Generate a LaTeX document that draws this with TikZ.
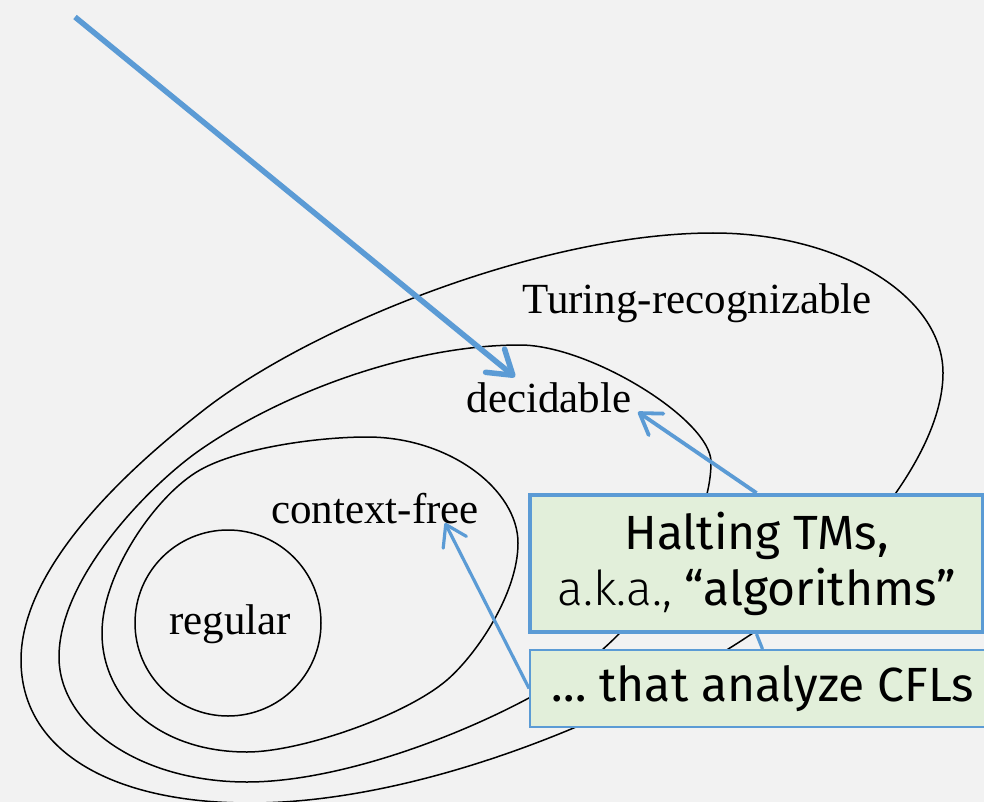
\documentclass[tikz,border=0pt]{standalone}
\usepackage{fontspec}
\setmainfont{Liberation Serif}
\newfontfamily\fira{Fira Sans}
\newfontfamily\firalight{Fira Sans Light}
\usetikzlibrary{arrows.meta}
\definecolor{bgc}{HTML}{F2F2F2}
\definecolor{arrowblue}{HTML}{5B9BD5}
\definecolor{boxgreen}{HTML}{E2EFDA}
\pgfdeclarelayer{back}
\pgfdeclarelayer{mid}
\pgfsetlayers{back,mid,main}
\tikzset{
  region/.style={draw=black, line width=1.5pt},
  lbl/.style={font=\fontsize{43}{50}\selectfont, inner sep=0pt, anchor=base},
  bigarrow/.style={draw=arrowblue, line width=5.5pt, -{Straight Barb[length=23pt,width=30pt,round]}},
  midarrow/.style={draw=arrowblue, line width=3.8pt, -{Straight Barb[length=20pt,width=26pt,round]}},
  smallarrow/.style={draw=arrowblue, line width=3.2pt, -{Straight Barb[length=20pt,width=26pt,round]}},
  plainline/.style={draw=arrowblue, line width=3.2pt},
  notebox/.style={fill=boxgreen, draw=arrowblue, inner sep=0pt, align=center,
    font=\fira\fontsize{48}{56}\selectfont}
}
\begin{document}
\begin{tikzpicture}[x=1pt,y=-1pt]
\begin{pgfonlayer}{back}
\fill[bgc] (0,0) rectangle (984,802);
\end{pgfonlayer}
\useasboundingbox (0,0) rectangle (984,802);

% labels
\node[lbl] (tr) at (697,313) {Turing-recognizable};
\node[lbl] (dec) at (549,412) {decidable};
\node[lbl] (cf) at (375,523) {context-free};
\node[lbl] (reg) at (230,634) {regular};

% boxes
\node[notebox, line width=4pt, minimum width=453pt, minimum height=137pt] (halt) at (756.5,563.5)
  {Halting TMs,\\{\firalight a.k.a.,} “algorithms”};
\node[notebox, line width=1.8pt, minimum width=465pt, minimum height=77pt] (cfl) at (762.5,688.5)
  {… that analyze CFLs};

\coordinate (start) at (75,17);
\coordinate (dectip) at (515,377);
\coordinate (decright) at (638,412);
\coordinate (cftip) at (445,523);

\begin{pgfonlayer}{mid}
% Turing-recognizable
\draw[region] (713,233) .. controls (840,233) and (943,296) .. (943,373)
  .. controls (943,460) and (840,574) .. (753,633)
  .. controls (628,717) and (420,803) .. (250,803)
  .. controls (110,803) and (21,750) .. (21,660)
  .. controls (21,560) and (145,456) .. (200,413)
  .. controls (309,326) and (543,233) .. (713,233) -- cycle;
% decidable
\draw[region] (520,345) .. controls (590,345) and (711,420) .. (711,462)
  .. controls (711,532) and (647,610) .. (602,650)
  .. controls (542,703) and (367,782) .. (247,782)
  .. controls (140,782) and (59,725) .. (59,657)
  .. controls (59,577) and (151,484) .. (200,450)
  .. controls (282,393) and (410,345) .. (520,345) -- cycle;
% context-free
\draw[region] (367,437) .. controls (450,437) and (518,490) .. (518,543)
  .. controls (518,593) and (477,654) .. (447,680)
  .. controls (405,716) and (300,752) .. (247,752)
  .. controls (160,752) and (102,700) .. (102,633)
  .. controls (102,573) and (156.5,494.5) .. (200,470)
  .. controls (239,448) and (317,437) .. (367,437) -- cycle;
% regular
\draw[region] (228,623) circle[radius=93];

% arrows
\draw[bigarrow] (start) -- (dectip);
\draw[plainline] (cfl.north) -- (halt.south);
\draw[midarrow] (halt.north) -- (decright);
\draw[smallarrow] (cfl.west) -- (cftip);
\end{pgfonlayer}
\end{tikzpicture}
\end{document}
